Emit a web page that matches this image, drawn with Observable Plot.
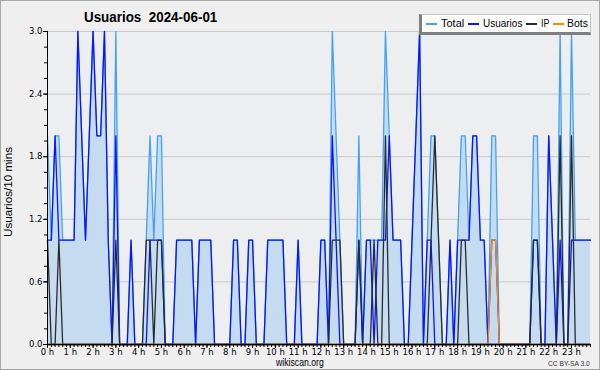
<!DOCTYPE html>
<html>
<head>
<meta charset="utf-8">
<script src="https://cdn.jsdelivr.net/npm/d3@7"></script>
<script src="https://cdn.jsdelivr.net/npm/@observablehq/plot@0.6"></script>
<style>
  html, body { margin: 0; padding: 0; background: #efefef; }
  #wrap { position: relative; width: 600px; height: 370px; background: #efefef; overflow: hidden;
          font-family: "Liberation Sans", Arial, sans-serif; color: #000; }
  #chart { position: absolute; left: 0; top: 0; }
  #border { position: absolute; left: 0; top: 0; width: 600px; height: 370px; box-sizing: border-box;
            border: 1px solid #a9a9a9; pointer-events: none; }
  .txt { position: absolute; display: inline-block; white-space: pre; transform-origin: 0 0; }
  #title { left: 84px; top: 10px; font-weight: bold; font-size: 14px; line-height: 14px; }
  #ylabel { left: 2px; top: 237px; font-size: 11px; line-height: 12px; }
  #legendBox { position: absolute; left: 419px; top: 14px; width: 172px; height: 21px; box-sizing: border-box; background: #fff;
            border-left: 3px solid #7f7f7f; border-bottom: 3px solid #7f7f7f; border-top: 1px solid #c4c4c4; border-right: 1px solid #c4c4c4; }
  .sw { position: absolute; width: 11px; height: 1.5px; top: 23px; }
  .lg { top: 17px; font-size: 11px; line-height: 13px; }
  #source { top: 357px; font-size: 10.5px; line-height: 10px; }
  #cc { top: 360px; font-size: 7.5px; line-height: 8px; color: #333; }
</style>
</head>
<body>
<div id="wrap">
  <div id="chart"></div>
  <div id="title" class="txt">Usuarios  2024-06-01</div>
  <div id="ylabel" class="txt">Usuarios/10 mins</div>
  <div id="legendBox"></div>
  <div id="source" class="txt">wikiscan.org</div>
  <div id="cc" class="txt">CC BY-SA 3.0</div>
  <div id="border"></div>
</div>
<script>
// ---- data: one value per 10 minutes, 00:00 .. 23:50 ----
const seriesNames = ["Total", "Usuarios", "IP", "Bots"];
const seriesColors = ["#42a2f5", "#0a14ff", "#2b2b2b", "#ff8c00"];

const usuarios = [
  1,1,2,1,1,1,1,1,3,2,  1,2,3,2,2,3,1,0,2,0,
  0,0,1,0,0,0,0,1,1,1,  1,0,0,0,1,1,1,1,1,0,
  1,1,1,1,0,0,0,0,0,1,  1,0,0,1,1,0,0,0,1,1,
  1,1,1,0,0,0,1,0,0,0,  0,0,1,1,0,2,1,0,0,0,
  0,0,1,0,1,1,0,1,1,1,  2,1,1,1,0,0,1,2,3,0,
  1,1,0,0,0,0,1,0,1,1,  1,1,2,2,1,1,0,1,1,0,
  0,0,0,0,0,0,0,0,1,1,  0,0,2,1,0,1,0,0,1,1,
  1,1,1,1
];
const ip = [
  1,0,0,1,0,0,0,0,0,0,  0,0,0,0,0,0,0,0,1,0,
  0,0,0,0,0,0,1,1,0,1,  1,0,0,0,0,0,0,0,0,0,
  0,0,0,0,0,0,0,0,0,0,  0,0,0,0,0,0,0,0,0,0,
  0,0,0,0,0,0,0,0,0,0,  0,0,0,0,0,1,1,1,0,0,
  0,0,1,0,0,0,1,0,0,2,  0,0,0,0,0,0,0,0,0,0,
  0,1,2,1,0,0,0,0,0,1,  1,0,0,0,0,0,0,0,0,0,
  0,0,0,0,0,0,0,0,1,1,  0,0,0,0,0,2,0,0,2,0,
  0,0,0,0
];
const bots = [
  0,0,0,0,0,0,0,0,0,0,  0,0,0,0,0,0,0,0,0,0,
  0,0,0,0,0,0,0,0,0,0,  0,0,0,0,0,0,0,0,0,0,
  0,0,0,0,0,0,0,0,0,0,  0,0,0,0,0,0,0,0,0,0,
  0,0,0,0,0,0,0,0,0,0,  0,0,0,0,0,0,0,0,0,0,
  0,0,0,0,0,0,0,0,0,0,  0,0,0,0,0,0,0,0,0,0,
  0,0,0,0,0,0,0,0,0,0,  0,0,0,0,0,0,0,1,1,0,
  0,0,0,0,0,0,0,0,0,0,  0,0,0,0,0,0,0,0,0,0,
  0,0,0,0
];
const total = [
  2,1,2,2,1,1,1,1,3,2,  1,2,3,2,2,3,1,0,3,0,
  0,0,1,0,0,0,1,2,1,2,  2,0,0,0,1,1,1,1,1,0,
  1,1,1,1,0,0,0,0,0,1,  1,0,0,1,1,0,0,0,1,1,
  1,1,1,0,0,0,1,0,0,0,  0,0,1,1,0,3,2,1,0,0,
  0,0,2,0,1,1,1,1,1,3,  2,1,1,1,0,0,1,2,3,0,
  1,2,2,1,0,0,1,0,1,2,  2,1,2,2,1,1,0,2,2,0,
  0,0,0,0,0,0,0,0,2,2,  0,0,2,1,0,3,0,0,3,1,
  1,1,1,1
];

const hourLabels = ["0 h","1 h","2 h","3 h","4 h","5 h","6 h","7 h","8 h","9 h","10 h","11 h",
                    "12 h","13 h","14 h","15 h","16 h","17 h","18 h","19 h","20 h","21 h","22 h","23 h"];
const yTicks = [0, 0.6, 1.2, 1.8, 2.4, 3.0];

// ---- build table ----
const rows = total.map((t, i) => ({i, total: t, usuarios: usuarios[i], ip: ip[i], bots: bots[i]}));
const hourTicks = hourLabels.map((_, h) => h * 6);
const minorX = d3.range(0, total.length);
const minorY = d3.range(0, 21).map(k => k * 0.15);

const chart = Plot.plot({
  width: 600, height: 370,
  marginLeft: 47, marginRight: 10, marginTop: 31, marginBottom: 26,
  style: {background: "transparent", fontFamily: "'DejaVu Sans',sans-serif", fontSize: "8.5px", color: "#000", overflow: "visible"},
  x: {domain: [0, total.length - 1], axis: null},
  y: {domain: [0, 3], axis: null},
  marks: [
    Plot.frame({fill: "#eceef0", stroke: null}),
    Plot.ruleY(yTicks.slice(1), {stroke: "#c9c9c9", strokeWidth: 1}),
    Plot.areaY(rows, {x: "i", y: "total", fill: "#c5dcf0", curve: "linear"}),
    Plot.lineY(rows, {x: "i", y: "total", stroke: seriesColors[0], strokeWidth: 1.3}),
    Plot.lineY(rows, {x: "i", y: "usuarios", stroke: seriesColors[1], strokeWidth: 1.3}),
    Plot.lineY(rows, {x: "i", y: "ip", stroke: seriesColors[2], strokeWidth: 1.3}),
    Plot.lineY(rows, {x: "i", y: "bots", stroke: seriesColors[3], strokeWidth: 1.3}),
    Plot.axisY({ticks: minorY, tickFormat: () => "", tickSize: 3, anchor: "left", label: null}),
    Plot.axisY({ticks: yTicks, tickFormat: d => d.toFixed(1), tickSize: 4, tickPadding: 1, anchor: "left", label: null}),
    Plot.axisX({ticks: minorX, tickFormat: () => "", tickSize: 3, anchor: "bottom", label: null}),
    Plot.axisX({ticks: hourTicks, tickFormat: (d, k) => hourLabels[k], tickSize: 4, tickPadding: 0, anchor: "bottom", label: null}),
    Plot.ruleX([0], {stroke: "#000", strokeWidth: 1}),
    Plot.ruleY([0], {stroke: "#000", strokeWidth: 1.3})
  ]
});
document.getElementById("chart").appendChild(chart);

// ---- legend ----
const wrap = document.getElementById("wrap");
const legendSwatchX = [426, 468, 526, 553];
const legendTextX = [441, 483, 541, 567];
const legendTextW = [23, 39, 8, 21];
seriesNames.forEach((name, k) => {
  const sw = document.createElement("div");
  sw.className = "sw";
  sw.style.left = legendSwatchX[k] + "px";
  sw.style.background = seriesColors[k];
  wrap.appendChild(sw);
  const t = document.createElement("div");
  t.className = "txt lg";
  t.style.left = legendTextX[k] + "px";
  t.textContent = name;
  wrap.appendChild(t);
  t.dataset.w = legendTextW[k];
});

// ---- fit narrow text widths (reference font is a narrow face) ----
function fit(el, w, extra) {
  const k = w / el.offsetWidth;
  el.style.transform = (extra || "") + " scaleX(" + k + ")";
}
fit(document.getElementById("title"), 133);
fit(document.getElementById("ylabel"), 90, "rotate(-90deg)");
const src = document.getElementById("source");
fit(src, 48); src.style.left = "276px";
const cc = document.getElementById("cc");
fit(cc, 42); cc.style.left = "548px";
document.querySelectorAll(".lg").forEach(el => fit(el, +el.dataset.w));
</script>
</body>
</html>
